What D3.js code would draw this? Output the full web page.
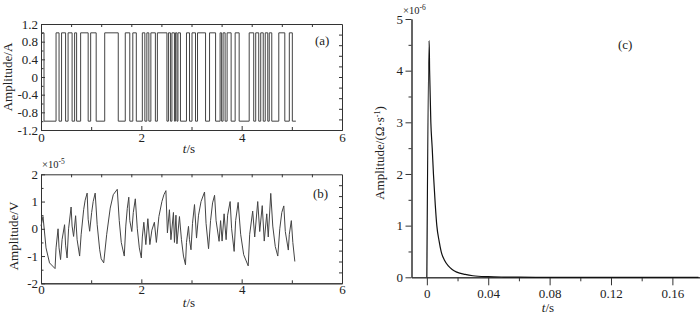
<!DOCTYPE html>
<html>
<head>
<meta charset="utf-8">
<script src="https://cdn.jsdelivr.net/npm/d3@7"></script>
<style>
  body { margin: 0; background: #fff; }
  svg text { font-family: "Liberation Serif", "Times New Roman", serif; fill: #222; }
</style>
</head>
<body>
<svg id="chart" width="700" height="317"></svg>
<script>
// (a) excitation current: time of each switch and the level after it
const aTimes = [0, 0.06, 0.30, 0.36, 0.41, 0.49, 0.54, 0.62, 0.67, 0.71,
                0.79, 0.94, 0.99, 1.10, 1.27, 1.54, 1.68, 1.77, 1.83, 1.90,
                2.02, 2.07, 2.11, 2.15, 2.19, 2.28, 2.32, 2.51, 2.54, 2.58,
                2.61, 2.66, 2.68, 2.71, 2.73, 2.78, 2.90, 2.96, 3.01, 3.08,
                3.12, 3.28, 3.36, 3.48, 3.57, 3.60, 3.63, 3.67, 3.71, 3.79,
                3.87, 3.95, 4.15, 4.24, 4.28, 4.34, 4.38, 4.43, 4.47, 4.52,
                4.55, 4.60, 4.74, 4.86, 4.95, 5.01, 5.08];
const aLevels = [1, -1, 1, -1, 1, -1, 1, -1, 1, -1,
                 1, -1, 1, -1, 1, -1, 1, -1, 1, -1,
                 1, -1, 1, -1, 1, -1, 1, -1, 1, -1,
                 1, -1, 1, -1, 1, -1, 1, -1, 1, -1,
                 1, -1, 1, -1, 1, -1, 1, -1, 1, -1,
                 1, -1, 1, -1, 1, -1, 1, -1, 1, -1,
                 1, -1, 1, -1, 1, -1, -1];

// (b) measured voltage (x1e-5 V)
const bTimes = [0, 0.04, 0.10, 0.17, 0.28, 0.30, 0.34, 0.36, 0.39, 0.42,
                0.47, 0.49, 0.52, 0.55, 0.60, 0.62, 0.65, 0.69, 0.72, 0.77,
                0.80, 0.85, 0.88, 0.92, 0.94, 0.97, 1.01, 1.04, 1.08, 1.12,
                1.17, 1.20, 1.25, 1.31, 1.38, 1.44, 1.52, 1.56, 1.60, 1.66,
                1.69, 1.72, 1.75, 1.77, 1.81, 1.84, 1.88, 1.92, 1.96, 2.00,
                2.02, 2.05, 2.09, 2.13, 2.17, 2.21, 2.26, 2.30, 2.35, 2.41,
                2.45, 2.49, 2.52, 2.56, 2.59, 2.64, 2.66, 2.69, 2.71, 2.76,
                2.80, 2.84, 2.88, 2.90, 2.94, 2.96, 2.99, 3.02, 3.06, 3.10,
                3.14, 3.19, 3.26, 3.29, 3.34, 3.38, 3.42, 3.46, 3.49, 3.55,
                3.58, 3.61, 3.65, 3.69, 3.72, 3.77, 3.80, 3.85, 3.88, 3.93,
                3.98, 4.04, 4.13, 4.16, 4.22, 4.26, 4.32, 4.36, 4.41, 4.45,
                4.50, 4.53, 4.58, 4.62, 4.67, 4.72, 4.76, 4.80, 4.84, 4.87,
                4.93, 4.95, 4.99, 5.02, 5.06];
const bValues = [0.1, 0.45, -0.7, -1.25, -1.46, -0.7, 0.0, -0.7, -1.13, -0.4,
                 0.15, -0.6, -1.07, 0.0, 0.8, 0.1, -0.28, 0.48, -0.4, -1.0,
                 -0.22, 0.7, 1.05, 1.31, 0.35, -0.09, 0.6, 1.0, 1.31, 0.15,
                 -0.77, -1.1, -1.25, -0.2, 0.76, 1.25, 1.45, 0.3, -0.5, -1.0,
                 0.1, 0.75, 1.16, 0.3, -0.1, 0.6, 1.1, 0.0, -0.7, -1.07,
                 -0.3, 0.24, -0.58, 0.37, -0.58, -0.05, 0.24, -0.5, 0.45, 1.0,
                 1.25, 1.4, -0.15, 0.7, -0.4, 0.6, -0.5, 0.5, -0.55, 0.45,
                 -0.4, -1.0, -1.32, -0.5, 0.09, -0.4, -0.77, 0.2, 0.89, -0.34,
                 0.5, 1.0, 1.35, 0.2, -0.73, 0.3, 0.95, 1.23, 0.3, -0.46,
                 0.3, -0.45, 0.55, -0.4, 0.5, 1.0, 0.0, -0.83, 0.3, 0.97,
                 -0.2, -0.95, -1.36, -0.2, 0.65, -0.3, 1.0, -0.1, 0.85, -0.45,
                 0.55, -0.3, 1.3, 0.1, -0.65, -1.0, 0.0, 0.6, 0.84, -0.1,
                 -0.78, -0.2, 0.3, -0.5, -1.2];

// (c) identified impulse response (x1e-6)
const cTimes = [0, 0.0015, 0.0018, 0.0026, 0.0035, 0.0043, 0.0055, 0.0065, 0.008, 0.0093,
                0.0115, 0.014, 0.0165, 0.0195, 0.025, 0.03, 0.04, 0.05, 0.06, 0.08,
                0.10, 0.12, 0.14, 0.16, 0.177];
const cValues = [0, 4.58, 4.0, 3.0, 2.5, 2.0, 1.4, 1.0, 0.7, 0.5,
                 0.33, 0.22, 0.15, 0.1, 0.055, 0.03, 0.012, 0.005, 0.002, 0,
                 0, 0, 0, 0, 0];

// tick labels
const abXTicks = [0, 2, 4, 6];
const aYTicks = [-1.2, -0.8, -0.4, 0, 0.4, 0.8, 1.2];
const bYTicks = [-2, -1, 0, 1, 2];
const cXTicks = [0, 0.04, 0.08, 0.12, 0.16];
const cYTicks = [0, 1, 2, 3, 4, 5];

const svg = d3.select("#chart");
const serif = "Liberation Serif, Times New Roman, serif";
const fmt = d => String(+d.toFixed(2));

function styleAxis(g, size) {
  g.attr("font-family", serif).attr("font-size", size || 13);
  g.selectAll("line").attr("stroke", "#333");
  g.select(".domain").attr("stroke", "#333");
  g.selectAll("text").attr("fill", "#222");
}

// draws a boxed frame with inward ticks on all four sides
function frame(x, y, o) {
  const [x0, x1] = x.range(), [y0, y1] = y.range();
  svg.append("g").attr("transform", `translate(0,${y0})`)
     .call(d3.axisBottom(x).tickValues(o.xMinor).tickSize(-3).tickSizeOuter(0).tickFormat(""))
     .call(styleAxis);
  svg.append("g").attr("transform", `translate(0,${y0})`)
     .call(d3.axisBottom(x).tickValues(o.xMajor).tickSize(-4).tickSizeOuter(0).tickPadding(o.xPad).tickFormat(fmt))
     .call(styleAxis);
  svg.append("g").attr("transform", `translate(${x0},0)`)
     .call(d3.axisLeft(y).tickValues(o.yMinor).tickSize(-2.5).tickSizeOuter(0).tickFormat(""))
     .call(styleAxis);
  svg.append("g").attr("transform", `translate(${x0},0)`)
     .call(d3.axisLeft(y).tickValues(o.yMajor).tickSize(-4).tickSizeOuter(0).tickPadding(3).tickFormat(fmt))
     .call(styleAxis);
  svg.append("g").attr("transform", `translate(0,${y1})`)
     .call(d3.axisTop(x).tickValues(o.top).tickSize(-3).tickSizeOuter(0).tickFormat(""))
     .call(styleAxis);
  svg.append("g").attr("transform", `translate(${x1},0)`)
     .call(d3.axisRight(y).tickValues(o.right).tickSize(-3).tickSizeOuter(0).tickFormat(""))
     .call(styleAxis);
}

function tLabel(x, y) {
  const t = svg.append("text").attr("x", x).attr("y", y)
               .attr("text-anchor", "middle").attr("font-size", 13);
  t.append("tspan").attr("font-style", "italic").text("t");
  t.append("tspan").text("/s");
}

function yTitle(x, y, txt) {
  return svg.append("text").attr("transform", `translate(${x},${y}) rotate(-90)`)
            .attr("text-anchor", "middle").attr("font-size", 13).text(txt);
}

function expo(x, y, p) {
  const t = svg.append("text").attr("x", x).attr("y", y).attr("font-size", 10.5);
  t.append("tspan").text("\u00d710");
  t.append("tspan").attr("dy", -4).attr("font-size", 7.5).text(p);
}

const topTicks = d3.range(1, 10).map(i => i * 0.6);

// ---- panel (a)
const xA = d3.scaleLinear().domain([0, 6]).range([41, 342]);
const yA = d3.scaleLinear().domain([-1.2, 1.2]).range([130, 24]);
frame(xA, yA, {
  xMajor: abXTicks, xMinor: [1, 3, 5], xPad: 2.5,
  yMajor: aYTicks, yMinor: d3.range(-5, 6, 2).map(i => i * 0.2),
  top: topTicks, right: d3.range(1, 10).map(i => -1.2 + i * 0.24)
});
const dataA = aTimes.map((t, i) => [t, aLevels[i]]);
svg.append("path").datum(dataA)
   .attr("fill", "none").attr("stroke", "#444").attr("stroke-width", 1)
   .attr("d", d3.line().curve(d3.curveStepAfter).x(d => xA(d[0])).y(d => yA(d[1])));
yTitle(12, 77, "Amplitude/A");
tLabel(189, 153);
svg.append("text").attr("x", 315).attr("y", 45).attr("font-size", 13).text("(a)");

// ---- panel (b)
const xB = d3.scaleLinear().domain([0, 6]).range([41, 342]);
const yB = d3.scaleLinear().domain([-2, 2]).range([283.3, 174.3]);
frame(xB, yB, {
  xMajor: abXTicks, xMinor: [1, 3, 5], xPad: 1,
  yMajor: bYTicks, yMinor: [-1.5, -0.5, 0.5, 1.5],
  top: topTicks, right: d3.range(1, 10).map(i => -2 + i * 0.4)
});
const dataB = bTimes.map((t, i) => [t, bValues[i]]);
svg.append("path").datum(dataB)
   .attr("fill", "none").attr("stroke", "#444").attr("stroke-width", 1)
   .attr("d", d3.line().x(d => xB(d[0])).y(d => yB(d[1])));
expo(42, 168, "-5");
yTitle(18, 236, "Amplitude/V");
tLabel(189, 307);
svg.append("text").attr("x", 313).attr("y", 198).attr("font-size", 13).text("(b)");

// ---- panel (c)
const xC = d3.scaleLinear().domain([-0.01, 0.178]).range([411.5, 700]);
const yC = d3.scaleLinear().domain([0, 5]).range([277.3, 19]);
svg.append("g").attr("transform", "translate(0,277.3)")
   .call(d3.axisBottom(xC).tickValues([0.02, 0.06, 0.10, 0.14]).tickSize(4).tickSizeOuter(0).tickFormat(""))
   .call(styleAxis);
svg.append("g").attr("transform", "translate(0,277.3)")
   .call(d3.axisBottom(xC).tickValues(cXTicks).tickSize(8).tickSizeOuter(0).tickPadding(3.5).tickFormat(fmt))
   .call(styleAxis);
svg.append("g").attr("transform", "translate(411.5,0)")
   .call(d3.axisLeft(yC).tickValues([0.5, 1.5, 2.5, 3.5, 4.5]).tickSize(3).tickSizeOuter(0).tickFormat(""))
   .call(styleAxis);
svg.append("g").attr("transform", "translate(411.5,0)")
   .call(d3.axisLeft(yC).tickValues(cYTicks).tickSize(6).tickSizeOuter(0).tickPadding(2.5).tickFormat(fmt))
   .call(styleAxis);
const dataC = cTimes.map((t, i) => [t, cValues[i]]);
svg.append("path").datum(dataC)
   .attr("fill", "none").attr("stroke", "#111").attr("stroke-width", 1.2)
   .attr("d", d3.line().curve(d3.curveMonotoneX).x(d => xC(d[0])).y(d => yC(d[1])));
expo(403, 14, "-6");
const ct = yTitle(384, 153, "");
ct.append("tspan").text("Amplitude/(\u03a9\u00b7s");
ct.append("tspan").attr("dy", -4).attr("font-size", 8).text("-1");
ct.append("tspan").attr("dy", 4).text(")");
tLabel(548, 312);
svg.append("text").attr("x", 618).attr("y", 49).attr("font-size", 13).text("(c)");
</script>
</body>
</html>
